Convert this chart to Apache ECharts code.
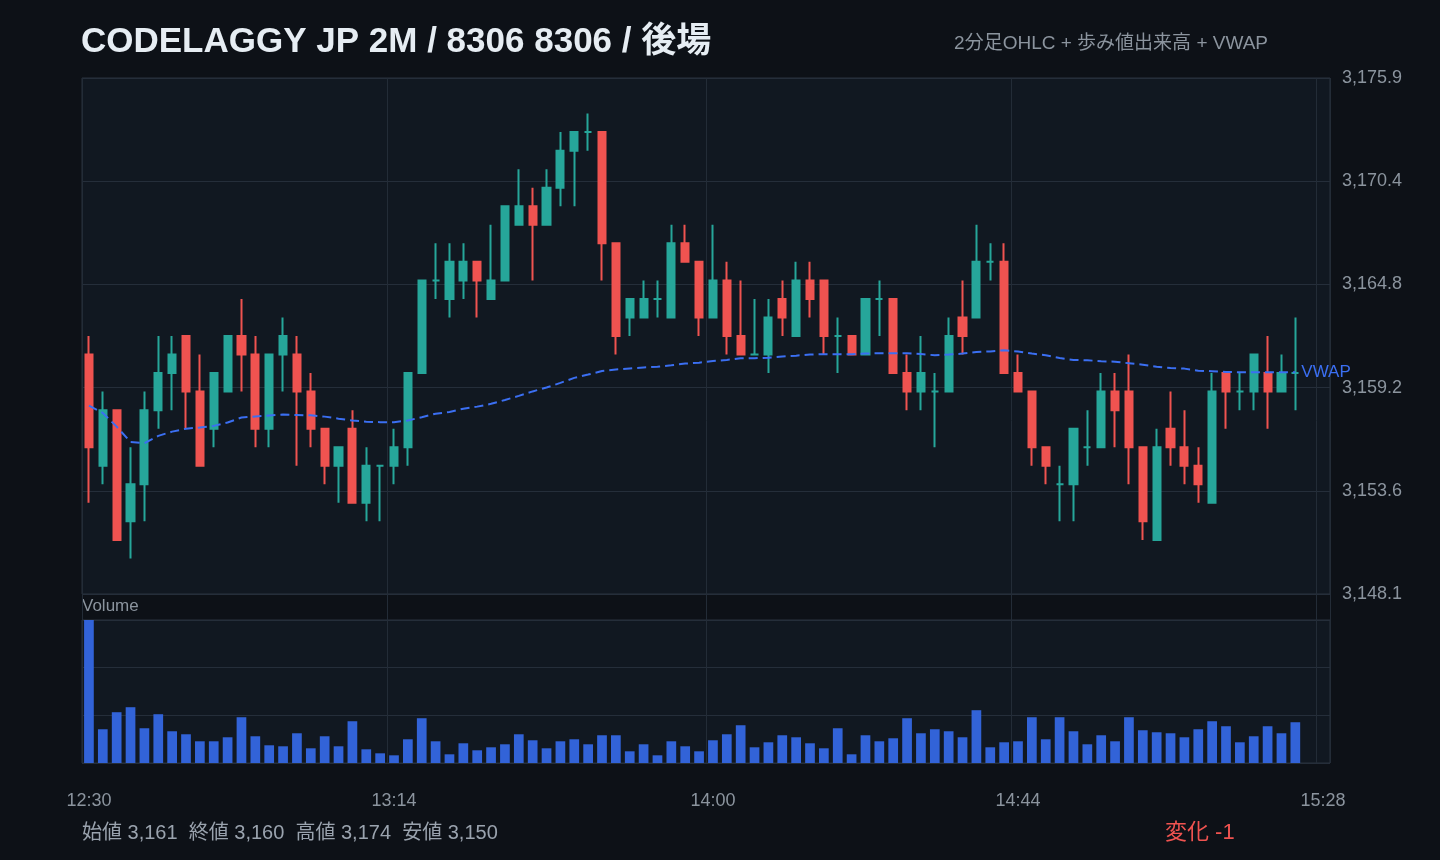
<html><head><meta charset="utf-8"><meta name="viewport" content="width=device-width, initial-scale=1">
<script src="https://cdn.jsdelivr.net/npm/echarts@6.0.0/dist/echarts.min.js"></script>
<style type="text/css">
        html { height: 100%; }
        body { height: 100%; margin: 0px; padding: 0px; background: #0d1117; }
    </style></head><body><div id="main" style="width: 1440px;height:860px;"></div><script type="text/javascript">
        var times = ['12:30','12:32','12:34','12:36','12:38','12:40','12:42','12:44','12:46','12:48',
            '12:50','12:52','12:54','12:56','12:58','13:00','13:02','13:04','13:06','13:08',
            '13:10','13:12','13:14','13:16','13:18','13:20','13:22','13:24','13:26','13:28',
            '13:30','13:32','13:34','13:36','13:38','13:40','13:42','13:44','13:46','13:48',
            '13:50','13:52','13:54','13:56','13:58','14:00','14:02','14:04','14:06','14:08',
            '14:10','14:12','14:14','14:16','14:18','14:20','14:22','14:24','14:26','14:28',
            '14:30','14:32','14:34','14:36','14:38','14:40','14:42','14:44','14:46','14:48',
            '14:50','14:52','14:54','14:56','14:58','15:00','15:02','15:04','15:06','15:08',
            '15:10','15:12','15:14','15:16','15:18','15:20','15:22','15:24','15:26','15:28'];
        var tickTimes = ['12:30', '13:14', '14:00', '14:44', '15:28'];

        var open = [3161,3155,3158,3152,3154,3158,3160,3162,3159,3157,3159,3162,3161,3157,3161,3161,3159,3157,3155,3157,
            3153,3155,3155,3156,3160,3165,3164,3165,3166,3164,3165,3168,3169,3168,3170,3172,3173,3173,3167,3163,
            3163,3164,3163,3167,3166,3163,3165,3162,3161,3161,3164,3162,3165,3165,3162,3162,3161,3164,3164,3160,
            3159,3159,3159,3163,3163,3166,3166,3160,3159,3156,3154,3154,3156,3156,3159,3159,3156,3151,3157,3156,
            3155,3153,3160,3159,3159,3160,3159,3160];
        var close = [3156,3158,3151,3154,3158,3160,3161,3159,3155,3160,3162,3161,3157,3161,3162,3159,3157,3155,3156,3153,
            3155,3155,3156,3160,3165,3165,3166,3166,3165,3165,3169,3169,3168,3170,3172,3173,3173,3167,3162,3164,
            3164,3164,3167,3166,3163,3165,3162,3161,3161,3163,3163,3165,3164,3162,3162,3161,3164,3164,3160,3159,
            3160,3159,3162,3162,3166,3166,3160,3159,3156,3155,3154,3157,3156,3159,3158,3156,3152,3156,3156,3155,
            3154,3159,3159,3159,3161,3159,3160,3160];
        var low = [3153,3154,3151,3150,3152,3157,3158,3157,3155,3156,3159,3159,3156,3156,3159,3155,3156,3154,3153,3153,
            3152,3152,3154,3155,3160,3164,3163,3164,3163,3164,3165,3168,3165,3168,3169,3169,3172,3165,3161,3162,
            3163,3163,3163,3166,3162,3163,3161,3161,3161,3160,3162,3162,3163,3161,3160,3161,3161,3162,3160,3158,
            3158,3156,3159,3161,3163,3165,3160,3159,3155,3154,3152,3152,3155,3156,3156,3154,3151,3151,3155,3154,
            3153,3153,3157,3158,3158,3157,3159,3158];
        var high = [3162,3159,3158,3156,3159,3162,3162,3162,3161,3160,3162,3164,3162,3161,3163,3162,3160,3157,3156,3158,
            3156,3155,3157,3160,3165,3167,3167,3167,3166,3168,3169,3171,3170,3171,3173,3173,3174,3173,3167,3164,
            3165,3165,3168,3168,3166,3168,3166,3165,3164,3164,3165,3166,3166,3165,3163,3162,3164,3165,3164,3161,
            3162,3160,3163,3165,3168,3167,3167,3161,3159,3156,3155,3157,3158,3160,3160,3161,3156,3157,3159,3158,
            3156,3160,3160,3160,3161,3162,3161,3163];
        var volume = [42800,10100,15200,16700,10400,14600,9500,8600,6500,6500,7700,13700,8000,5300,5000,8900,4400,8000,5000,12500,
            4100,2900,2300,7100,13400,6500,2600,5900,3800,4700,5600,8600,6800,4400,6500,7100,5600,8300,8300,3500,
            5600,2300,6500,5000,3500,6800,8600,11300,4700,6200,8300,7700,5900,4400,10400,2600,8300,6500,7400,13400,
            8900,10100,9500,7700,15800,4700,6200,6500,13700,7100,13700,9500,5600,8300,6500,13700,9800,9200,8900,7700,
            10100,12500,11000,6200,8000,11000,8900,12200];
        var vwap = [3158.24,3157.85,3157.11,3156.28,3156.22,3156.61,3156.84,3157.00,3157.06,3157.15,3157.33,3157.60,3157.66,3157.71,3157.76,3157.74,3157.72,3157.65,3157.54,3157.44,
            3157.38,3157.35,3157.35,3157.44,3157.62,3157.81,3157.90,3158.08,3158.19,3158.34,3158.55,3158.77,3159.01,3159.22,3159.47,3159.74,3159.92,3160.11,3160.19,3160.25,
            3160.30,3160.34,3160.42,3160.51,3160.56,3160.65,3160.71,3160.80,3160.80,3160.83,3160.89,3160.94,3161.00,3161.02,3161.02,3161.02,3161.05,3161.07,3161.07,3161.07,
            3161.03,3160.96,3161.00,3161.05,3161.14,3161.17,3161.23,3161.16,3161.05,3160.96,3160.81,3160.71,3160.69,3160.64,3160.61,3160.53,3160.45,3160.34,3160.27,3160.24,
            3160.13,3160.10,3160.06,3160.04,3160.04,3160.04,3160.04,3160.04];

        var upColor = '#26a69a';
        var downColor = '#ef5350';
        var font = "'Liberation Sans', 'Noto Sans CJK JP', sans-serif";

        var ohlc = [];
        for (var i = 0; i < open.length; i++) {
            ohlc.push([open[i], close[i], low[i], high[i]]);
        }
        var hi = Math.max.apply(null, high);
        var lo = Math.min.apply(null, low);
        var pad = (hi - lo) * 0.08;
        var yMin = lo - pad, yMax = hi + pad;
        var volMax = Math.max.apply(null, volume);

        function isTick(idx) {
            return tickTimes.indexOf(times[idx]) >= 0;
        }
        function fmt(v, d) {
            return v.toLocaleString('en-US', { minimumFractionDigits: d, maximumFractionDigits: d });
        }

        var myChart = echarts.init(document.getElementById('main'));
        var option = {
            backgroundColor: '#0d1117',
            animation: false,
            textStyle: { fontFamily: font },
            title: [{
                text: 'CODELAGGY JP 2M / 8306 8306 / 後場',
                left: 81, top: 25, padding: 0,
                textStyle: { color: '#e6edf3', fontSize: 35, fontWeight: 'bold', fontFamily: font }
            }, {
                text: '2分足OHLC + 歩み値出来高 + VWAP',
                right: 172, top: 34, padding: 0,
                textStyle: { color: '#8b949e', fontSize: 19, fontWeight: 'normal', fontFamily: font }
            }],
            grid: [
                { left: 82, right: 110, top: 78, height: 516, show: true, backgroundColor: '#111821', borderColor: '#2a333f', borderWidth: 1 },
                { left: 82, right: 110, top: 620, height: 143, show: true, backgroundColor: '#111821', borderColor: '#2a333f', borderWidth: 1 },
                { left: 82, right: 110, top: 78, height: 685, show: false }
            ],
            xAxis: [
                { type: 'category', gridIndex: 0, data: times, boundaryGap: true,
                  axisLine: { show: false }, axisTick: { show: false }, axisLabel: { show: false }, splitLine: { show: false } },
                { type: 'category', gridIndex: 1, data: times, boundaryGap: true,
                  axisLine: { show: false }, axisTick: { show: false }, splitLine: { show: false },
                  axisLabel: { color: '#8b949e', fontSize: 18, margin: 29, interval: function (idx) { return isTick(idx); } } },
                { type: 'category', gridIndex: 2, data: times, boundaryGap: true,
                  axisLine: { show: false }, axisTick: { show: false }, axisLabel: { show: false },
                  splitLine: { show: true, interval: function (idx) { return isTick(idx); }, lineStyle: { color: '#232c37', width: 1 } } }
            ],
            yAxis: [
                { type: 'value', gridIndex: 0, position: 'right', min: yMin, max: yMax, interval: (yMax - yMin) / 5,
                  axisLine: { show: false }, axisTick: { show: false },
                  axisLabel: { color: '#8b949e', fontSize: 18, margin: 12, formatter: function (v) { return fmt(v, 1); } },
                  splitLine: { lineStyle: { color: '#252e3a', width: 1 } } },
                { type: 'value', gridIndex: 1, min: 0, max: volMax, interval: volMax / 3,
                  axisLine: { show: false }, axisTick: { show: false }, axisLabel: { show: false },
                  splitLine: { lineStyle: { color: '#252e3a', width: 1 } } },
                { type: 'value', gridIndex: 2, show: false }
            ],
            series: [{
                name: 'OHLC',
                type: 'candlestick',
                xAxisIndex: 0, yAxisIndex: 0,
                barWidth: '55%',
                itemStyle: {
                    color: upColor, color0: downColor,
                    borderColor: upColor, borderColor0: downColor, borderColorDoji: upColor,
                    borderWidth: 2
                },
                data: ohlc
            }, {
                name: 'VWAP',
                type: 'line',
                xAxisIndex: 0, yAxisIndex: 0,
                symbol: 'none',
                z: 3,
                lineStyle: { color: '#3b6ff2', width: 2, type: [9, 5] },
                endLabel: { show: true, formatter: 'VWAP', color: '#3b6ff2', fontSize: 17, distance: 6 },
                data: vwap
            }, {
                name: 'Volume',
                type: 'bar',
                xAxisIndex: 1, yAxisIndex: 1,
                barWidth: '70%',
                itemStyle: { color: '#3263d8' },
                data: volume
            }],
            graphic: [
                { type: 'text', x: 82, y: 606, style: { text: 'Volume', fill: '#8b949e', font: '17px ' + font, verticalAlign: 'middle' } },
                { type: 'text', x: 82, y: 833, style: {
                    text: '始値 ' + fmt(open[0], 0) + '  終値 ' + fmt(close[close.length - 1], 0) + '  高値 ' + fmt(hi, 0) + '  安値 ' + fmt(lo, 0),
                    fill: '#9aa3ae', font: '20px ' + font, verticalAlign: 'middle' } },
                { type: 'text', x: 1165, y: 833, style: {
                    text: '変化 ' + (close[close.length - 1] - open[0]),
                    fill: '#ef5350', font: '22px ' + font, verticalAlign: 'middle' } }
            ]
        };
        myChart.setOption(option);
    </script></body></html>
